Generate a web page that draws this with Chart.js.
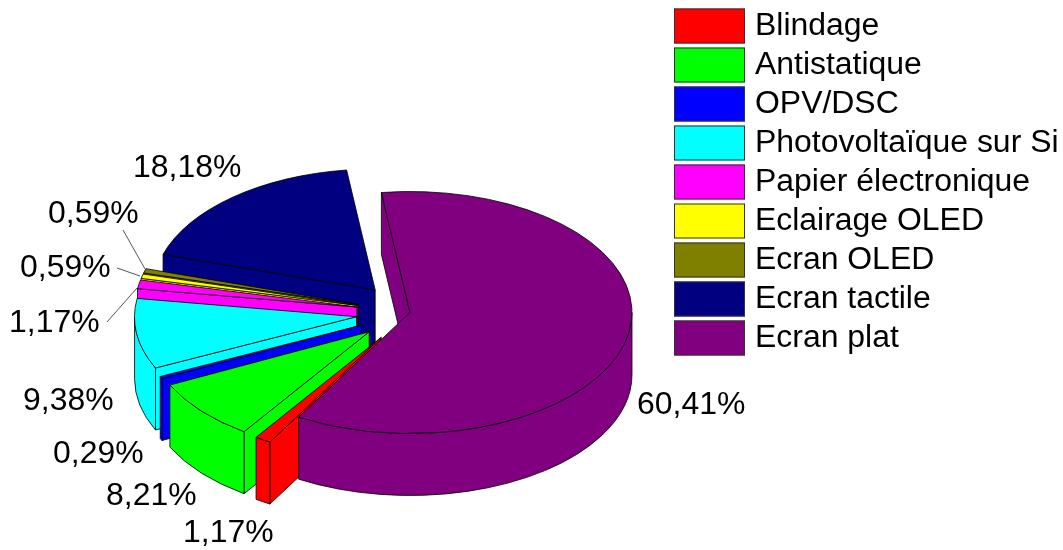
<!DOCTYPE html>
<html><head><meta charset="utf-8">
<style>html,body{margin:0;padding:0;background:#fff}#w{width:1063px;height:550px;position:relative}</style>
<script src="https://cdn.jsdelivr.net/npm/chart.js@4"></script>
</head><body><div id="w"><canvas id="c" width="1063" height="550"></canvas></div>
<script>
const categories=["Blindage","Antistatique","OPV/DSC","Photovoltaïque sur Si","Papier électronique","Eclairage OLED","Ecran OLED","Ecran tactile","Ecran plat"];
const values=[1.17,8.21,0.29,9.38,1.17,0.59,0.59,18.18,60.41];
const valueLabels=["1,17%","8,21%","0,29%","9,38%","1,17%","0,59%","0,59%","18,18%","60,41%"];
const colors=["#ff0000","#00ff00","#0000ff","#00ffff","#ff00ff","#ffff00","#808000","#000080","#800080"];
const explode=[54,54,54,54,54,54,54,54,0];

// presentation layout (not data)
const labelLeft=[183,106,53,23,9,20,48,133,637];
const labelMidY=[533,496,454,401,323,268,214,168,405];
const leaders=[null,null,null,null,[107,322,137,288],[117,268,140,276],[123,230,145,269],null,null];
const TILT=0.545, DEPTH=62, CENTER_Y=312.5, FONT=31, XS=1.03;
const LEG_X=674, LEG_W=71, LEG_H=35, LEG_TOP=8.5, LEG_STEP=39, LEG_TEXT=755;
const LINE="rgba(0,0,0,.8)";

const pie3d={
  id:'pie3d',
  beforeDatasetsDraw(chart){
    const ctx=chart.ctx, arcs=chart.getDatasetMeta(0).data, n=arcs.length;
    const order=[]; for(let i=n-2;i>=0;i--)order.push(i); order.push(n-1);
    for(const i of order){
      const a=arcs[i],s=a.startAngle,e=a.endAngle,m=(s+e)/2,R=a.outerRadius,fill=a.options.backgroundColor;
      const dx=explode[i]*Math.cos(m), dy=explode[i]*Math.sin(m);
      const ax=a.x+dx, ay=CENTER_Y+dy*TILT;
      const P=t=>[ax+R*Math.cos(t),ay+R*TILT*Math.sin(t)];
      ctx.save();
      ctx.fillStyle=fill; ctx.strokeStyle=LINE; ctx.lineWidth=1; ctx.lineJoin='round';
      const face=t=>{const p=P(t);ctx.beginPath();ctx.moveTo(ax,ay);ctx.lineTo(p[0],p[1]);ctx.lineTo(p[0],p[1]+DEPTH);ctx.lineTo(ax,ay+DEPTH);ctx.closePath();ctx.fill();ctx.stroke();};
      // radial faces that look toward the viewer
      if(Math.cos(s)<0) face(s);
      if(Math.cos(e)>0) face(e);
      // outer wall: only the part on the front half
      for(const k of [-2,0,2,4]){
        const lo=Math.max(s,k*Math.PI), hi=Math.min(e,(k+1)*Math.PI);
        if(hi<=lo)continue;
        ctx.beginPath();
        ctx.ellipse(ax,ay,R,R*TILT,0,lo,hi,false);
        ctx.ellipse(ax,ay+DEPTH,R,R*TILT,0,hi,lo,true);
        ctx.closePath();ctx.fill();ctx.stroke();
      }
      // top face: the library's own arc element under the tilt
      ctx.save();
      ctx.translate(dx,CENTER_Y+dy*TILT);ctx.scale(1,TILT);ctx.translate(0,-a.y);
      a.draw(ctx);
      ctx.restore();
      ctx.beginPath();ctx.moveTo(ax,ay);ctx.ellipse(ax,ay,R,R*TILT,0,s,e,false);ctx.closePath();ctx.stroke();
      ctx.restore();
    }
    return false;
  },
  afterDraw(chart){
    const ctx=chart.ctx;
    ctx.save();
    // leader lines
    ctx.strokeStyle="#555";ctx.lineWidth=1;
    leaders.forEach(l=>{if(!l)return;ctx.beginPath();ctx.moveTo(l[0],l[1]);ctx.lineTo(l[2],l[3]);ctx.stroke();});
    const text=(t,x,y)=>{ctx.save();ctx.translate(x,y);ctx.scale(XS,1);ctx.fillText(t,0,0);ctx.restore();};
    ctx.font=FONT+"px 'Liberation Sans'";ctx.fillStyle="#000";ctx.textAlign="left";ctx.textBaseline="middle";
    valueLabels.forEach((t,i)=>text(t,labelLeft[i],labelMidY[i]));
    // legend
    categories.forEach((t,i)=>{
      const y=LEG_TOP+i*LEG_STEP;
      ctx.fillStyle=colors[i];ctx.fillRect(LEG_X,y,LEG_W,LEG_H);
      ctx.strokeStyle="#333";ctx.strokeRect(LEG_X+.5,y+.5,LEG_W-1,LEG_H-1);
      ctx.fillStyle="#000";text(t,LEG_TEXT,y+LEG_H/2);
    });
    ctx.restore();
  }
};
new Chart(document.getElementById('c'),{
  type:'pie',
  data:{labels:categories,datasets:[{data:values,backgroundColor:colors,borderWidth:0}]},
  options:{
    responsive:false,animation:false,rotation:210.1,
    layout:{padding:{left:188,right:431,top:53,bottom:53}},
    plugins:{legend:{display:false},tooltip:{enabled:false},title:{display:false}}
  },
  plugins:[pie3d]
});
</script></body></html>
